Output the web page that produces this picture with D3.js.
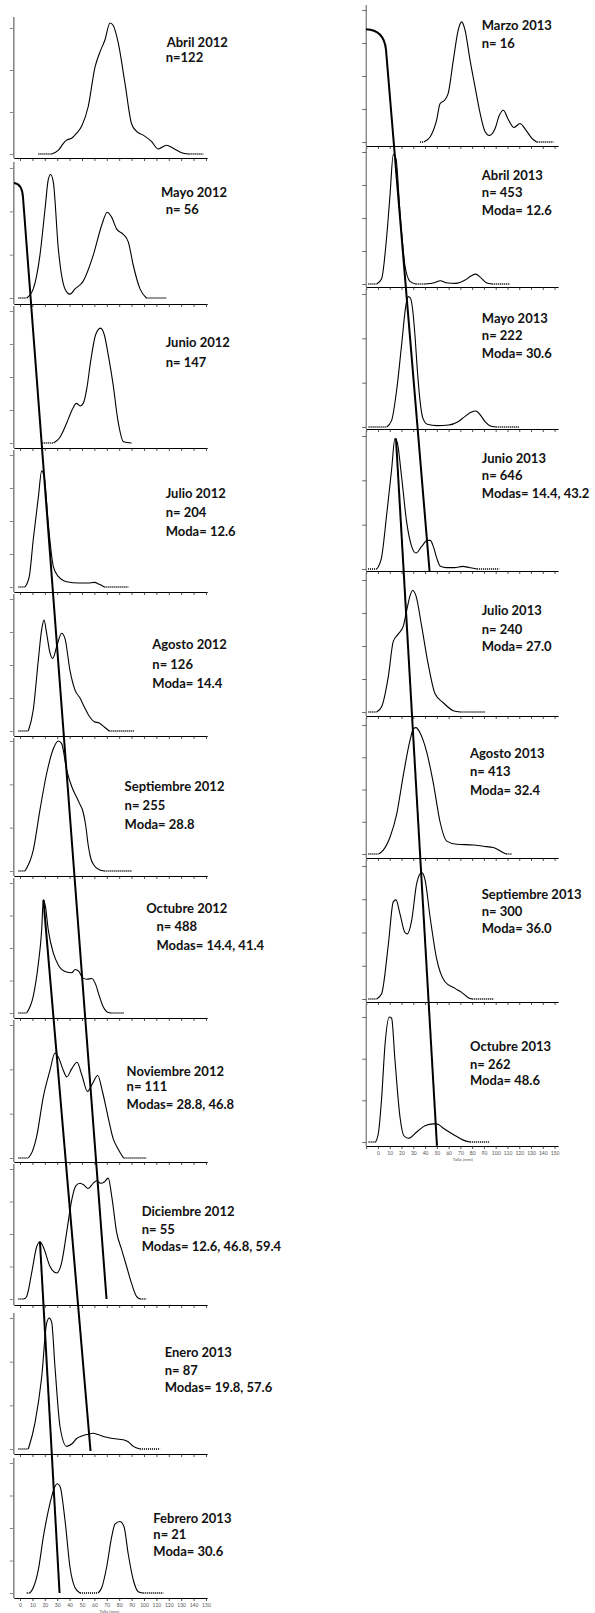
<!DOCTYPE html>
<html>
<head>
<meta charset="utf-8">
<script src="https://cdn.jsdelivr.net/npm/d3@7"></script>
<style>
  body { margin: 0; background: #fff; }
  svg { display: block; }
  text { font-family: Lato, "Open Sans", sans-serif; }
</style>
</head>
<body>
<svg id="chart" width="595" height="1613"></svg>
<script>
// ---- Data: monthly length-frequency distributions (Talla, mm) ----
const months = [
  "Abril 2012", "Mayo 2012", "Junio 2012", "Julio 2012", "Agosto 2012",
  "Septiembre 2012", "Octubre 2012", "Noviembre 2012", "Diciembre 2012",
  "Enero 2013", "Febrero 2013",
  "Marzo 2013", "Abril 2013", "Mayo 2013", "Junio 2013", "Julio 2013",
  "Agosto 2013", "Septiembre 2013", "Octubre 2013"
];
const sampleSizes = [122, 56, 147, 204, 126, 255, 488, 111, 55, 87, 21,
                     16, 453, 222, 646, 240, 413, 300, 262];
const modes = [[], [], [], [12.6], [14.4], [28.8], [14.4, 41.4], [28.8, 46.8],
               [12.6, 46.8, 59.4], [19.8, 57.6], [30.6],
               [], [12.6], [30.6], [14.4, 43.2], [27.0], [32.4], [36.0], [48.6]];
const nSpacing = ["=", "= ", "= ", "= ", "= ", "= ", "= ", "= ", "= ", "= ", "= ",
                  "= ", "= ", "= ", "= ", "= ", "= ", "= ", "= "];

// length classes (mm) sampled along each curve
const lengthsMm = [
  [14.8, 25.5, 31, 35, 37.6, 41.7, 45.7, 49.7, 55, 60.5, 64.5, 68.5, 72.6, 75.2, 79.3, 84.7, 90, 94, 99.4, 106, 111.5, 118.3, 123.6, 130.4, 136, 147.8],
  [-1.3, 5.4, 10.7, 16.1, 20.2, 22.8, 24.7, 26.9, 30.9, 36.3, 40.3, 44.4, 51, 59.1, 65.9, 70.4, 74, 78, 83.3, 87.4, 91.4, 96.8, 102, 118.3],
  [17.5, 27, 32, 37.6, 42, 45.5, 48.5, 51, 54, 57, 61, 65, 68, 71.5, 75, 79, 83.5, 90],
  [-1.3, 4, 7.5, 10.7, 14.8, 17.5, 19.6, 22.8, 26.9, 30.9, 37.6, 47.6, 55, 60, 64, 68, 87.6],
  [-1.3, 6.7, 10.7, 14.8, 17.5, 19.4, 21.5, 24, 26.4, 29.6, 33.6, 36.3, 40.3, 44.4, 48.4, 52, 56, 60, 64, 68, 72, 92],
  [-1.3, 4, 10.7, 16.1, 21.5, 26.9, 30.9, 33.6, 37.6, 41.7, 45, 48, 51, 53, 55, 57, 60, 64, 68, 90],
  [-1.3, 5.4, 10.7, 14.8, 17.5, 18.8, 20.5, 22.8, 26.9, 30.9, 36.3, 41.7, 44.5, 47.5, 50.5, 54, 58, 61, 64, 67, 70, 73, 84],
  [-1.3, 6.7, 10, 13.4, 18.8, 24.2, 28.2, 30.9, 34.9, 37.7, 41.7, 46, 50, 54.4, 58.5, 62.7, 66.5, 71, 75, 79, 83.5, 101.8],
  [-1.3, 3, 5.4, 9.4, 13.4, 16.1, 18.8, 24.2, 29.6, 33.6, 37.6, 41.7, 45, 48.4, 51, 55, 59, 61.8, 65, 68, 71.2, 74, 78, 82, 86, 90, 94, 97, 102],
  [-1.3, 6.7, 12.1, 17.5, 21.5, 23.6, 25.5, 28.2, 32.3, 37.6, 42, 45.7, 50, 53.8, 59.1, 63, 67.2, 75.2, 83.3, 87.3, 91.4, 96.8, 113],
  [5.4, 8, 10.7, 14.8, 18.8, 24.2, 28.2, 30.1, 32.3, 36.3, 40.3, 44.4, 48.4, 63, 65.9, 69.9, 73.9, 76.6, 80.6, 83.9, 87.3, 91.4, 95.4, 99, 115.6],
  [35.7, 39, 44.4, 49.9, 52.7, 56.9, 59.7, 64, 68.2, 71.1, 73.9, 78.2, 82.4, 86.7, 90.9, 94.6, 99.4, 103, 106.5, 110.7, 115.6, 120.6, 124.9, 130.6, 134.8, 149],
  [-8.2, -1.1, 3.1, 7.4, 10.2, 13, 15.3, 18.7, 22.9, 27.2, 32, 40, 48, 53, 58, 66, 74, 79, 83, 87, 92, 97, 112],
  [-8, 7.4, 11.6, 15.9, 20.1, 23.8, 25.8, 27.5, 29.5, 31.5, 33.5, 35.7, 38, 42, 50, 60, 68, 74, 79, 83, 87, 91, 95, 100, 120],
  [-8.5, -1, 3.1, 7.4, 11.6, 14.4, 16.4, 20.1, 24.4, 28.6, 32.3, 37.1, 41.9, 44.4, 47, 50, 53, 58, 65, 72, 78, 84, 103],
  [-8.2, -1.1, 3.1, 8.8, 13, 17.2, 21.5, 24.4, 27.2, 29.5, 32.3, 37.1, 42.7, 48.4, 55.5, 64, 70, 91],
  [-8.2, 0.5, 4.5, 10.2, 15.9, 21.5, 27.2, 30, 32.3, 35.7, 41.4, 47, 52.7, 58.4, 66.9, 81, 89.5, 98, 106.5, 109, 113.6],
  [-8.2, -1.1, 3.1, 8.8, 13, 15.3, 18.7, 22.9, 24.9, 28.6, 32.9, 37.1, 39.9, 44.2, 49.9, 56.9, 65.4, 71.1, 76.7, 80, 98],
  [-8, -2, 0.5, 3.1, 6, 9.6, 11.6, 14.4, 18.7, 22, 25.8, 32.9, 39.9, 47, 50, 55.5, 64, 72.5, 78, 95]
];
// relative frequency at each length (1 = top tick of the panel)
const density = [
  [0, 0, .03, .085, .11, .125, .165, .22, .375, .69, .81, .905, 1.04, 1.02, .88, .56, .24, .18, .15, .1, .04, .07, .045, .01, 0, 0],
  [0, 0, .07, .33, .685, .91, .95, .89, .38, .07, .03, .07, .13, .33, .56, .66, .62, .53, .49, .43, .25, .07, 0, 0],
  [0, 0, .04, .15, .25, .3, .28, .3, .42, .62, .82, .87, .82, .65, .45, .17, .01, 0],
  [0, 0, .08, .36, .68, .88, .83, .48, .155, .08, .04, .03, .03, .035, .02, 0, 0],
  [0, 0, .16, .54, .77, .84, .74, .6, .55, .64, .74, .7, .46, .31, .25, .18, .11, .07, .06, .03, 0, 0],
  [0, 0, .16, .47, .75, .94, 1.0, .98, .78, .65, .58, .52, .45, .35, .2, .1, .04, .01, 0, 0],
  [0, 0, .13, .38, .64, .87, .82, .64, .46, .37, .32, .31, .335, .32, .27, .26, .265, .22, .13, .05, .01, 0, 0],
  [0, 0, .05, .16, .46, .66, .79, .76, .66, .61, .67, .72, .62, .5, .56, .62, .5, .31, .15, .07, 0, 0],
  [0, 0, .02, .2, .4, .44, .4, .25, .2, .28, .51, .76, .87, .89, .88, .85, .89, .91, .89, .9, .93, .79, .51, .38, .25, .12, .02, 0, 0],
  [0, 0, .2, .55, .96, 1.0, .97, .63, .17, .02, .04, .08, .1, .11, .12, .11, .095, .08, .07, .055, .02, 0, 0],
  [0, 0, .04, .18, .43, .69, .82, .84, .82, .56, .2, .04, 0, 0, .04, .2, .43, .53, .55, .51, .3, .1, .01, 0, 0],
  [0, 0, .04, .17, .29, .32, .37, .62, .85, .91, .85, .62, .42, .22, .08, .05, .10, .2, .24, .17, .11, .14, .10, .03, 0, 0],
  [0, 0, .04, .36, .67, .98, .95, .54, .14, .02, 0, 0, .01, .025, .01, .005, .03, .06, .075, .05, .01, 0, 0],
  [0, 0, .05, .28, .62, .92, .98, .97, .88, .68, .42, .2, .07, .02, .01, .015, .04, .08, .11, .12, .09, .04, .01, 0, 0],
  [0, 0, .09, .41, .75, .98, .95, .69, .35, .17, .12, .17, .215, .215, .17, .08, .02, .01, .01, .02, .01, 0, 0],
  [0, 0, .04, .27, .535, .59, .65, .77, .88, .92, .88, .65, .36, .14, .07, .01, 0, 0],
  [0, 0, .03, .13, .31, .61, .88, .97, .98, .94, .79, .55, .25, .1, .075, .07, .06, .05, .01, 0, 0],
  [0, 0, .04, .41, .73, .745, .64, .5, .49, .59, .87, .95, .9, .62, .3, .13, .08, .05, .01, 0, 0],
  [0, 0, .08, .35, .78, 1.0, .99, .66, .2, .05, .03, .08, .13, .145, .145, .11, .06, .015, 0, 0]
];

// Cohort progression tracks: endpoints given as (panel, length mm, relative level)
const cohortTracks = [
  { cap: [[1, -4.8, .885], [1, 1.6, .88], [1, 2.4, .777]], end: [8, 69.8, 0] },
  { start: [6, 18.9, .87], end: [9, 56.9, -.015] },
  { start: [8, 16.1, .44], end: [10, 31.9, 0] },
  { cap: [[11, -10.2, .854], [11, 5.1, .85], [11, 6.8, .70]], end: [14, 43.8, -.015] },
  { start: [14, 15.3, .98], end: [18, 50.1, -.03] }
];

const xTickValuesLeft = d3.range(0, 151, 10);
const xTickValuesRight = d3.range(-10, 151, 10);
const xAxisTitle = "Talla (mm)";

// ---- Layout ----
const columns = [
  { domain: [-5, 151], range: [13.8, 207.2], ticks: xTickValuesLeft, yAxisColor: "#8a8a8a", yAxisWidth: 1.6 },
  { domain: [-10, 153], range: [366.2, 558.1], ticks: xTickValuesRight, yAxisColor: "#6a6a6a", yAxisWidth: 1.1 }
];
// col, y-axis top, top tick, baseline tick, x-axis line, tick intervals, text x, text line centres
const panels = [
  { col: 0, top: 17,   t: 28,   b: 154,  a: 158,  n: 3, tx: [166.7, 165.7], ty: [42.5, 57.5] },
  { col: 0, top: 162,  t: 168,  b: 298,  a: 304,  n: 3, tx: [161, 165.7], ty: [192, 209.5] },
  { col: 0, top: 306,  t: 311,  b: 443,  a: 448,  n: 4, tx: [165.7, 165.7], ty: [342.8, 362.3] },
  { col: 0, top: 450,  t: 455,  b: 587,  a: 592,  n: 4, tx: [165.7, 165.7, 165.7], ty: [493, 512.6, 531.2] },
  { col: 0, top: 594,  t: 599,  b: 731,  a: 736,  n: 4, tx: [152.3, 152.3, 152.3], ty: [644.4, 664, 683.5] },
  { col: 0, top: 738,  t: 741,  b: 871,  a: 876,  n: 3, tx: [124.6, 124.6, 124.6], ty: [786.5, 805, 824.5] },
  { col: 0, top: 878,  t: 883,  b: 1013, a: 1018, n: 4, tx: [146.2, 156.5, 156.5], ty: [908, 926.5, 945] },
  { col: 0, top: 1020, t: 1025, b: 1158, a: 1162, n: 3, tx: [126.6, 126.6, 126.6], ty: [1071.6, 1086, 1104.5] },
  { col: 0, top: 1164, t: 1169, b: 1299, a: 1305, n: 4, tx: [141.7, 141.7, 141.7], ty: [1211, 1229.3, 1246.7] },
  { col: 0, top: 1313, t: 1318, b: 1449, a: 1454, n: 3, tx: [164.7, 164.7, 164.7], ty: [1352.6, 1370, 1387.6] },
  { col: 0, top: 1458, t: 1463, b: 1593, a: 1598, n: 4, tx: [153.3, 153.3, 153.3], ty: [1518.3, 1534.3, 1551], bottom: true },
  { col: 1, top: 5,    t: 10,   b: 142,  a: 146,  n: 4, tx: [481.7, 481.7], ty: [25, 43.3] },
  { col: 1, top: 148,  t: 152,  b: 284,  a: 287,  n: 4, tx: [481.8, 481.8, 481.8], ty: [175, 192.5, 210] },
  { col: 1, top: 289,  t: 294,  b: 427,  a: 429,  n: 3, tx: [481.8, 481.8, 481.8], ty: [318, 335.6, 353] },
  { col: 1, top: 431,  t: 436,  b: 569,  a: 571,  n: 3, tx: [481.8, 481.8, 481.8], ty: [458, 475.6, 493] },
  { col: 1, top: 573,  t: 580,  b: 712,  a: 716,  n: 4, tx: [481.7, 481.7, 481.7], ty: [610.6, 629, 646] },
  { col: 1, top: 718,  t: 725,  b: 854,  a: 858,  n: 4, tx: [470, 470, 470], ty: [753, 771.6, 790] },
  { col: 1, top: 860,  t: 866,  b: 999,  a: 1002, n: 4, tx: [481.7, 481.7, 481.7], ty: [894, 911.4, 928.7] },
  { col: 1, top: 1004, t: 1017, b: 1142, a: 1146, n: 3, tx: [470, 470, 470], ty: [1046.7, 1064, 1080.7], bottom: true }
];

const svg = d3.select("#chart");
const xScales = columns.map(c => d3.scaleLinear().domain(c.domain).range(c.range));
const yScales = panels.map(p => d3.scaleLinear().domain([0, 1]).range([p.b, p.t]));

// split a curve into solid runs and dotted zero runs
function segments(xs, ys) {
  const pts = xs.map((x, i) => [x, ys[i]]);
  const out = [];
  let i = 0;
  while (i < pts.length - 1) {
    if (pts[i][1] === 0 && pts[i + 1][1] === 0) {
      let j = i + 1;
      while (j + 1 < pts.length && pts[j + 1][1] === 0) j++;
      out.push({ dotted: true, pts: pts.slice(i, j + 1) });
      i = j;
    } else {
      let j = i + 1;
      while (j < pts.length - 1 && !(pts[j][1] === 0 && pts[j + 1][1] === 0)) j++;
      out.push({ dotted: false, pts: pts.slice(i, j + 1) });
      i = j;
    }
  }
  return out;
}

const fmt = d3.format(".1f");

panels.forEach((p, i) => {
  const col = columns[p.col];
  const x = xScales[p.col];
  const y = yScales[i];
  const g = svg.append("g");

  // x axis
  const xAxis = d3.axisBottom(x).tickValues(col.ticks).tickSize(3).tickSizeOuter(0)
    .tickFormat(p.bottom ? (d => d < 0 ? "" : d3.format("d")(d)) : "");
  const gx = g.append("g").attr("transform", `translate(0,${p.a})`).call(xAxis);
  gx.select(".domain").attr("stroke", "#000").attr("stroke-width", 1.1);
  gx.selectAll(".tick line").attr("stroke", "#222").attr("stroke-width", 0.8);
  gx.selectAll(".tick text").attr("font-size", 5).attr("fill", "#555").attr("y", 5)
    .attr("font-family", "Liberation Sans, Arial, sans-serif");
  if (p.bottom) {
    g.append("text").attr("x", x(72)).attr("y", p.a + 14.5)
      .attr("text-anchor", "middle").attr("font-size", 4.6).attr("fill", "#555")
      .attr("font-family", "Liberation Sans, Arial, sans-serif").text(xAxisTitle);
  }

  // y axis
  const x0 = col.range[0];
  g.append("line").attr("x1", x0).attr("x2", x0).attr("y1", p.top).attr("y2", p.a)
    .attr("stroke", col.yAxisColor).attr("stroke-width", col.yAxisWidth);
  const yAxis = d3.axisLeft(y).tickValues(d3.range(p.n + 1).map(k => k / p.n))
    .tickSize(4).tickFormat("");
  const gy = g.append("g").attr("transform", `translate(${x0},0)`).call(yAxis);
  gy.select(".domain").remove();
  gy.selectAll(".tick line").attr("stroke", col.yAxisColor).attr("stroke-width", 1);

  // distribution curve
  const solid = d3.line().x(d => x(d[0])).y(d => y(d[1])).curve(d3.curveMonotoneX);
  const straight = d3.line().x(d => x(d[0])).y(d => y(d[1]));
  segments(lengthsMm[i], density[i]).forEach(s => {
    g.append("path")
      .attr("d", s.dotted ? straight(s.pts) : solid(s.pts))
      .attr("fill", "none").attr("stroke", "#000")
      .attr("stroke-width", s.dotted ? 1.3 : 1.1)
      .attr("stroke-dasharray", s.dotted ? "1.1 0.9" : null);
  });

  // labels
  const lines = [months[i], "n" + nSpacing[i] + sampleSizes[i]];
  if (modes[i].length) {
    lines.push((modes[i].length > 1 ? "Modas= " : "Moda= ") + modes[i].map(fmt).join(", "));
  }
  lines.forEach((t, k) => {
    g.append("text").attr("x", p.tx[k]).attr("y", p.ty[k]).attr("dy", "0.35em")
      .attr("font-size", 13).attr("font-weight", 700).attr("fill", "#111").text(t);
  });
});

// cohort tracks
function pt(spec) {
  const [pi, mm, lvl] = spec;
  return [xScales[panels[pi].col](mm), yScales[pi](lvl)];
}
cohortTracks.forEach(tr => {
  const path = d3.path();
  if (tr.cap) {
    const [a, c, b] = tr.cap.map(pt);
    path.moveTo(a[0], a[1]);
    path.quadraticCurveTo(c[0], c[1], b[0], b[1]);
  } else {
    const s = pt(tr.start);
    path.moveTo(s[0], s[1]);
  }
  const e = pt(tr.end);
  path.lineTo(e[0], e[1]);
  svg.append("path").attr("d", path.toString()).attr("fill", "none")
    .attr("stroke", "#000").attr("stroke-width", 2);
});
</script>
</body>
</html>
